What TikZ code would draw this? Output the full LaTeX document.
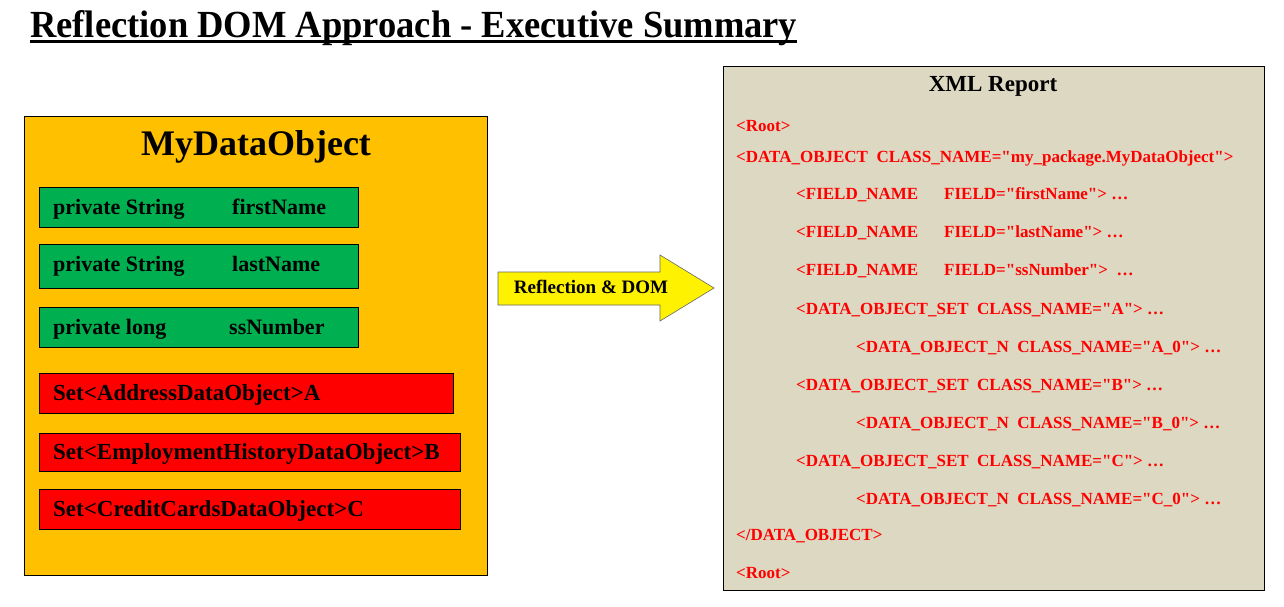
\documentclass[tikz,border=0pt]{standalone}
\usepackage{fontspec}
\setmainfont{Liberation Serif}[Ligatures=TeXOff]
\usepackage{graphicx}
\definecolor{gold}{HTML}{FFC000}
\definecolor{fgreen}{HTML}{00B050}
\definecolor{tan}{HTML}{DDD8C2}
\definecolor{ared}{HTML}{FF0000}
\tikzset{
  fieldbox/.style={draw=black, line width=0.8pt, fill=fgreen},
  setbox/.style={draw=black, line width=0.8pt, fill=ared},
  fieldtxt/.style={anchor=west, inner sep=0pt, font=\fontsize{22}{26}\selectfont\bfseries},
  settxt/.style={anchor=west, inner sep=0pt, font=\fontsize{23}{26}\selectfont\bfseries},
  xmltxt/.style={anchor=west, inner sep=0pt, text=ared, font=\fontsize{17}{20}\selectfont\bfseries},
}
\begin{document}
\begin{tikzpicture}[x=1pt,y=-1pt]
\useasboundingbox (0,0) rectangle (1284,606);
\fill[white] (0,0) rectangle (1284,606);
% title
\node[anchor=base west, inner sep=0pt] (title) at (30,37)
  {\resizebox{767pt}{27pt}{\fontsize{36}{40}\selectfont\bfseries Reflection DOM Approach - Executive Summary}};
\draw[line width=3pt] (30,41.5) -- (797,41.5);
% left object
\draw[fill=gold, line width=0.8pt] (24,116) rectangle (487,575);
\node[inner sep=0pt, font=\fontsize{36}{40}\selectfont\bfseries] (objtitle) at (256,147) {MyDataObject};
\draw[fieldbox] (39,187) rectangle (358,227);
\draw[fieldbox] (39,244) rectangle (358,288);
\draw[fieldbox] (39,307) rectangle (358,347);
\node[fieldtxt] (f1) at (53,209) {\makebox[179pt][l]{private String}firstName};
\node[fieldtxt] (f2) at (53,266) {\makebox[179pt][l]{private String}lastName};
\node[fieldtxt] (f3) at (53,329) {\makebox[176pt][l]{private long}ssNumber};
\draw[setbox] (39,373) rectangle (453,413);
\draw[setbox] (39,433) rectangle (460,471);
\draw[setbox] (39,489) rectangle (460,529);
\node[settxt] (s1) at (53,395) {Set<AddressDataObject>A};
\node[settxt] (s2) at (53,454) {Set<EmploymentHistoryDataObject>B};
\node[settxt] (s3) at (53,511) {Set<CreditCardsDataObject>C};
% arrow
\draw[fill=yellow, draw=black!60, line width=0.6pt]
  (498,272) -- (660,272) -- (660,255) -- (714,288) -- (660,321) -- (660,305) -- (498,305) -- cycle;
\node[inner sep=0pt, font=\fontsize{19}{22}\selectfont\bfseries] (arrowtxt) at (591,287) {Reflection \& DOM};
% XML report
\draw[fill=tan, line width=0.8pt] (723,66) rectangle (1264,590);
\node[inner sep=0pt, font=\fontsize{23}{26}\selectfont\bfseries] (xmltitle) at (993,86) {XML Report};
\node[xmltxt] (x1) at (736,126) {<Root>};
\node[xmltxt] (x2) at (736,158) {<DATA\_OBJECT\ \ CLASS\_NAME="my\_package.MyDataObject">};
\node[xmltxt] (x3) at (796,195) {\makebox[148pt][l]{<FIELD\_NAME}FIELD="firstName"> \ldots};
\node[xmltxt] (x4) at (796,233) {\makebox[148pt][l]{<FIELD\_NAME}FIELD="lastName"> \ldots};
\node[xmltxt] (x5) at (796,271) {\makebox[148pt][l]{<FIELD\_NAME}FIELD="ssNumber">\ \ \ldots};
\node[xmltxt] (x6) at (796,310) {<DATA\_OBJECT\_SET\ \ CLASS\_NAME="A"> \ldots};
\node[xmltxt] (x7) at (856,348) {<DATA\_OBJECT\_N\ \ CLASS\_NAME="A\_0"> \ldots};
\node[xmltxt] (x8) at (796,386) {<DATA\_OBJECT\_SET\ \ CLASS\_NAME="B"> \ldots};
\node[xmltxt] (x9) at (856,424) {<DATA\_OBJECT\_N\ \ CLASS\_NAME="B\_0"> \ldots};
\node[xmltxt] (x10) at (796,462) {<DATA\_OBJECT\_SET\ \ CLASS\_NAME="C"> \ldots};
\node[xmltxt] (x11) at (856,500) {<DATA\_OBJECT\_N\ \ CLASS\_NAME="C\_0"> \ldots};
\node[xmltxt] (x12) at (736,536) {</DATA\_OBJECT>};
\node[xmltxt] (x13) at (736,573) {<Root>};
\end{tikzpicture}
\end{document}
